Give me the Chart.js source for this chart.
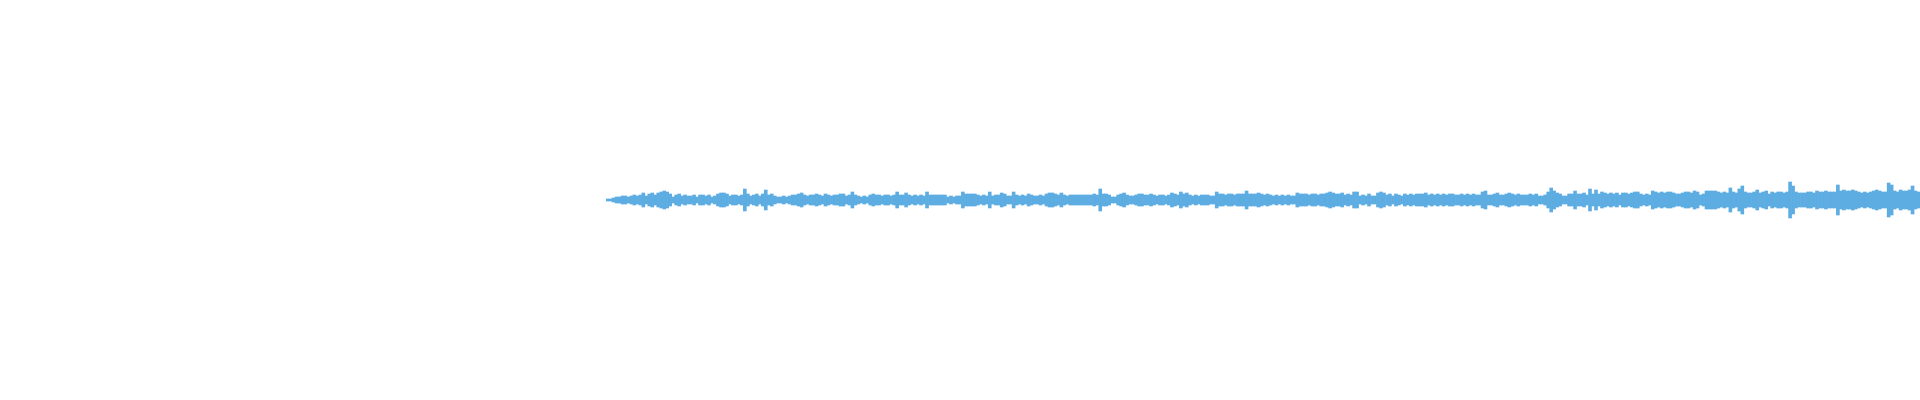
<!DOCTYPE html>
<html>
<head>
<meta charset="utf-8">
<script src="https://cdn.jsdelivr.net/npm/chart.js@4.4.1/dist/chart.umd.min.js"></script>
<style>
    html, body { margin: 0; padding: 0; background: #fff; }
    .wrap { width: 1920px; height: 400px; position: relative; }
</style>
</head>
<body>
<div class="wrap"><canvas id="wave"></canvas></div>
<script>
// ══════════════════════════════════════════
// DATA - peak amplitude per block
// ══════════════════════════════════════════

const ampA = [1,1,2,3,3, 4,4,3,4,5, 4,5,7,4, 6,7,5,7,8,9,8,6, 3,5,6,4,5,4, 4,5,3,5,5,4,5,3,4, 6,7,7,6, 4,5,5,4,5,11, 6,4,5,6,4,6,10,5];
const ampB = [6,4,3,3,4, 3,4,5,5,6, 7,5,4,5,5, 6,5,4,6,5, 4,5,5,6,6, 4,5,8,5,4, 3,4,3,5,6, 5,5,4,5,5, 4,5,8,5,5, 7,5,4,5,4, 5,4,8,5,5,5,5];
const ampC = [5,5,3,4,3, 4,4,8,6,6, 6,6,5,4,5, 4,8,4,5,5, 7,6,4,4,8, 5,4,5,4,6, 5,4,4,5,4, 6,7,7,6,5, 7,5,4,5,5, 5,5,5,5,5, 5,6,5,11,6,6,5];
const ampD = [3,3,5,6,7, 5,4,4,5,6, 6,5,5,6,5, 4,5,5,4,5, 7,6,5,8,6, 7,5,4,5,4, 5,5,5,4,4, 8,6,6,5,6, 6,5,6,6,6, 9,6,6,6,7, 6,5,6,5,4,5,4];
const ampE = [5,4,5,4,4, 7,6,6,6,5, 6,6,5,6,6, 7,8,7,6,6, 7,5,6,5,8, 8,4,5,4,6, 4,4,7,8,7, 5,6,4,6,5, 4,6,5,6,5, 6,6,6,7,5, 6,5,6,5,6,5,6];
const ampF = [6,5,5,6,5, 6,5,6,5,5, 8,9,5,5,6, 7,5,5,6,7, 6,5,6,5,5, 5,6,5,6,4, 4,5,8,12,9, 7,6,4,4,6, 6,9,6,6,7, 5,11,6,10,6, 8,7,6,7,6,7,5];
const ampG = [7,7,6,7,8, 8,6,5,6,5, 9,8,7,8,7, 8,8,7,6,6, 7,8,8,7,9, 8,5,6,9,9, 9,9,8,7,8, 7,12,8,7,11, 14,8,7,7,8, 10,7,8,9,6];
const ampH = [8,7,8,8,7, 8,18,14,8,7, 7,7,8,8,7, 9,8,8,9,8, 8,8,15,9,10, 9,9,10,9,8, 7,8,7,8,9, 10,9,8,8,17, 15,9,8,10,9, 9,10,14,9,8];

const amplitudes = [...ampA, ...ampB, ...ampC, ...ampD, ...ampE, ...ampF, ...ampG, ...ampH];
const blockLabels = amplitudes.map((_, i) => i);

const WAVE_COLOR = '#5dade2';

// ══════════════════════════════════════════
// CHART
// ══════════════════════════════════════════

function renderWave() {
    const ctx = document.getElementById('wave');

    // each block drawn as a bar from -peak to +peak
    const bars = amplitudes.map(a => [-a, a]);

    new Chart(ctx, {
        type: 'bar',
        data: {
            labels: blockLabels,
            datasets: [{
                data: bars,
                backgroundColor: WAVE_COLOR,
                borderWidth: 0,
                barPercentage: 1,
                categoryPercentage: 1
            }]
        },
        options: {
            responsive: true,
            maintainAspectRatio: false,
            animation: false,
            layout: { padding: { left: 606, right: 0, top: 0, bottom: 0 } },
            plugins: {
                legend: { display: false },
                tooltip: { enabled: false }
            },
            scales: {
                x: { display: false, grid: { display: false } },
                y: { display: false, min: -200, max: 200, grid: { display: false } }
            }
        }
    });
}

renderWave();
</script>
</body>
</html>
